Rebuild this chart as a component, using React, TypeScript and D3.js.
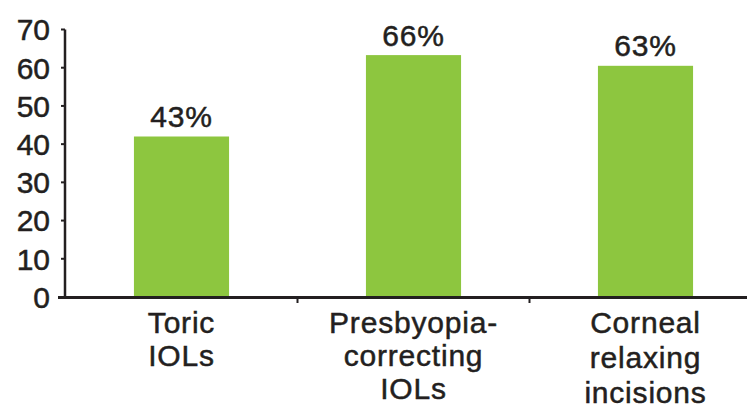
import React from "react";
import * as d3 from "d3";

const categories = [["Toric", "IOLs"], ["Presbyopia-", "correcting", "IOLs"], ["Corneal", "relaxing", "incisions"]];
const barValues = [42, 63.3, 60.5];
const valueLabels = ["43%", "66%", "63%"];
const yTicks = [0, 10, 20, 30, 40, 50, 60, 70];

const W = 747;
const H = 408;
const FONT = "'Liberation Sans', Arial, Helvetica, sans-serif";
const INK = "#231f20";
const GREEN = "#8dc63f";
const FS = 30;
const LINE_GAPS = [32.5, 33, 35];

const textStyle = { stroke: INK, strokeWidth: 0.5 } as const;

export default function App() {
  const y = d3.scaleLinear().domain([0, 70]).range([297, 29.5]);
  const x = d3
    .scaleBand<number>()
    .domain(categories.map((_, i) => i))
    .range([65.5, 761.5])
    .paddingInner(0.59)
    .paddingOuter(0.295);
  const step = x.step();
  const bw = x.bandwidth();

  return (
    <svg width={W} height={H} style={{ position: "absolute", left: 0, top: 0, background: "#fff" }} fontFamily={FONT}>
      {barValues.map((v, i) => (
        <rect key={i} x={x(i)} y={y(v)} width={bw} height={y(0) - y(v)} fill={GREEN} />
      ))}
      {barValues.map((v, i) => (
        <text key={i} x={(x(i) as number) + bw / 2} y={y(v) - 9.5} textAnchor="middle" fontSize={FS} letterSpacing={0.8} fill={INK} {...textStyle}>
          {valueLabels[i]}
        </text>
      ))}
      {/* y axis */}
      <line x1={65} x2={65} y1={y(70)} y2={y(0)} stroke={INK} strokeWidth={2.5} />
      {yTicks.map((t) => (
        <g key={t}>
          <line x1={t === 0 ? 58 : 61} x2={65} y1={y(t)} y2={y(t)} stroke={INK} strokeWidth={2} />
          <text x={50} y={y(t)} dy="0.36em" textAnchor="end" fontSize={FS} fill={INK} {...textStyle}>
            {t}
          </text>
        </g>
      ))}
      {/* x axis */}
      <line x1={58} x2={W} y1={y(0) + 0.5} y2={y(0) + 0.5} stroke={INK} strokeWidth={3} />
      {categories.slice(1).map((_, i) => {
        const xx = (x(i + 1) as number) - (step - bw) / 2;
        return <line key={i} x1={xx} x2={xx} y1={y(0)} y2={y(0) + 6} stroke={INK} strokeWidth={2} />;
      })}
      {categories.map((lines, i) => (
        <text key={i} x={(x(i) as number) + bw / 2} y={333} textAnchor="middle" fontSize={FS} letterSpacing={0.8} fill={INK} {...textStyle}>
          {lines.map((l, j) => (
            <tspan key={j} x={(x(i) as number) + bw / 2} dy={j === 0 ? 0 : LINE_GAPS[i]}>
              {l}
            </tspan>
          ))}
        </text>
      ))}
    </svg>
  );
}
